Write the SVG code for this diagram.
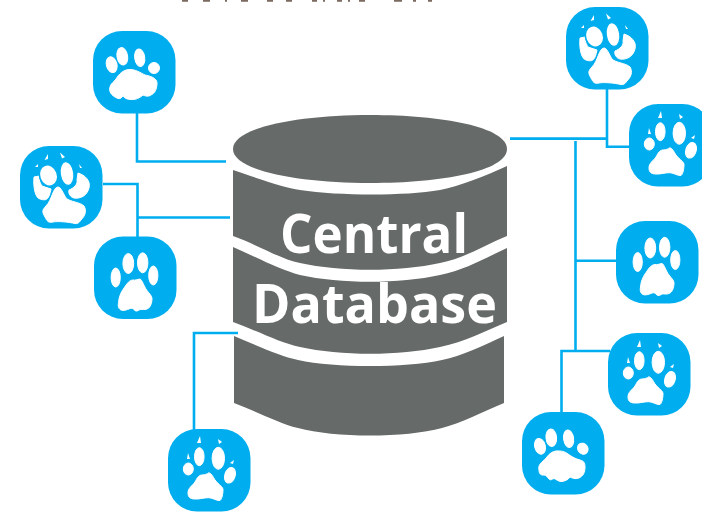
<svg xmlns="http://www.w3.org/2000/svg" width="702" height="513" viewBox="0 0 702 513">
<style>
.box{fill:#00aeef}
.w{fill:#fff;stroke:#fff;stroke-width:1;stroke-linejoin:round}
.c{fill:#fff}
.conn{fill:none;stroke:#00aeef;stroke-width:2.6}
.db{fill:#666a68}
.t{font-family:"Open Sans","Noto Sans",sans-serif;font-weight:700;font-size:54px;fill:#fff}
.frag{fill:none;stroke:#7a6a60;stroke-width:2.4}
</style>
<defs>
<rect id="b" class="box" width="82.5" height="82.5" rx="29"/>
<g id="pA">
<use href="#b"/>
<ellipse class="w" cx="18.7" cy="33.7" rx="5.300" ry="8" transform="rotate(-15 18.7 33.7)"/>
<ellipse class="w" cx="29.3" cy="25.3" rx="5.300" ry="8.800" transform="rotate(-10 29.3 25.3)"/>
<ellipse class="w" cx="46.7" cy="26.7" rx="5" ry="8.800" transform="rotate(-8 46.7 26.7)"/>
<ellipse class="w" cx="61" cy="37" rx="5.500" ry="5.500"/>
<path class="w" d="M36,38.5 C42,38 48,42 52,44 C57,45 64,47 64,52 C64,58 62,62 58,64 C55,66 52,65 50,64 C47,67 42,69 38,68.5 C34,68.500 31,67 30,64.500 C29,67 27,68 25,67.500 C21,66 15,62 17,56 C18,52 21,51 23,48 C26,43 30,39 36,38.5 Z"/>
</g>
<g id="pB">
<use href="#b"/>
<polygon class="c" points="24.5,14 28,8 28,13"/><polygon class="c" points="40,6.5 45,11 42,12.5"/><polygon class="c" points="59,18 60,22 62,22"/><polygon class="c" points="15,21 18,18 18,21"/>
<path class="w" d="M14,31 C13,40 15,52 20,53 C26,55 29,54 31,43 L22,40 C19,35 19,32 19,30 Z"/>
<path class="w" d="M58,27 C65,29 71,35 69,42 C67,50 60,53 54,52 C50,51 48,47 49,44 C54,42 58,38 57,34 Z"/>
<ellipse cx="28.5" cy="29.5" rx="9" ry="11" transform="rotate(-20 28.5 29.5)" fill="#fff" stroke="#00aeef" stroke-width="1.6"/>
<ellipse cx="47" cy="27.5" rx="6.8" ry="12" transform="rotate(-8 47 27.5)" fill="#fff" stroke="#00aeef" stroke-width="1.2"/>
<path class="w" d="M38,41 C41,41 43,47 46,52 C50,56 60,56 64,60 C67,65 65,70 61,74 C59,77 57,78 55,77.500 C48,76 38,75 33,76 C28,77 27,75 25,71 C22,66 22,64 26,60 C32,54 33,41 38,41 Z"/>
</g>
<g id="pC">
<use href="#b"/>
<ellipse class="w" cx="34.3" cy="27" rx="5.4" ry="10"/>
<ellipse class="w" cx="48.7" cy="26.3" rx="5.2" ry="10"/>
<ellipse class="w" cx="21.7" cy="41" rx="4.6" ry="9.500"/>
<ellipse class="w" cx="59.3" cy="39" rx="4.6" ry="9.500"/>
<path class="w" d="M39,43.5 C41,44 43,43 46,42.5 C48,43 50,50 53,54 C55,57 58,59 58,62 C58,67 56,71 54,72 C51,74 48,72.500 46,73 C44,74.500 42,75 41,74 C39,72 38,71.500 36,72 C33,73.500 29,74.500 27,73.500 C24,72 24,69 24.500,66 C25,60 27,56 29,53 C32,49 34,44 39,43.5 Z"/>
</g>
<g id="pD">
<use href="#b"/>
<polygon class="c" points="29,14 32,7 33,14"/><polygon class="c" points="50,10 54,13 51,15"/><polygon class="c" points="19,30 20,24 22,30"/><polygon class="c" points="62,34 66,31 65,35"/>
<ellipse class="w" cx="20.3" cy="40" rx="5" ry="6"/>
<ellipse class="w" cx="31.3" cy="27.7" rx="4.8" ry="9"/>
<ellipse class="w" cx="50.3" cy="29.3" rx="6.200" ry="11"/>
<ellipse class="w" cx="62" cy="46.3" rx="5.200" ry="8" transform="rotate(18 62 46.3)"/>
<path class="w" d="M34,46 C37,46 39,45 41,43.7 C44,45 45,48 47,51 C50,55 54,57 55,60 C55,65 54,70 52,71.500 C49,72 45,69 41,68.700 C36,68.500 31,70.500 27,70 C22,70 20,68 20,64 C20,59 24,57 27,53 C29,49 31,46 34,46 Z"/>
</g>
<g id="pE">
<use href="#b"/>
<ellipse class="w" cx="18" cy="34.3" rx="5.300" ry="8" transform="rotate(-15 18 34.3)"/>
<ellipse class="w" cx="29.3" cy="25.7" rx="5.300" ry="8.800" transform="rotate(-5 29.3 25.7)"/>
<ellipse class="w" cx="46.6" cy="26.7" rx="5" ry="8.800" transform="rotate(-8 46.6 26.7)"/>
<ellipse class="w" cx="60.8" cy="36.7" rx="5" ry="5.800" transform="rotate(-35 60.8 36.7)"/>
<path class="w" d="M34,39 C39,38.500 43,39.500 46,42 C50,45 54,47 58,48 C62,49 63,51 63,55 C63,61 61,64 57,66 C53,67.500 50,66 48,65 C46,68 42,69.500 39,69.500 C36,69.500 34,67 32,66.500 C30,67 29,68.500 27.500,67.500 C25,65 24,63 22,63 C19,63.500 17,62 17,58 C16,54 18,52 21,49 C25,46 27,40 34,39 Z"/>
</g>
</defs>
<path class="frag" d="M182,0.500H188M203,0.500H210M225,0.500H227M241,0.500H248M267,0.500H273M286,0.500H292M312,0.500H317M323,0.500H325M337,0.500H342M348,0.500H350M359,0.500H365M394,0.500H402M413,0.500H416M428,0.500H432"/>
<g id="connectors">
<path class="conn" d="M137,113V161.500H226"/>
<path class="conn" d="M103,184H137.500V237M137.500,217.500H230"/>
<path class="conn" d="M510,138.600H607M607,89V146.700H630"/>
<path class="conn" d="M575.500,141V351M575.500,260.700H617M561.500,413V351H610"/>
<path class="conn" d="M238,333H194V430"/>
</g>
<g id="database">
<path class="db" d="M233,149 C233,127 300,115 370,115 C442,115 507,127 507,149 C507,171 442,183 370,183 C300,183 233,171 233,149 Z"/>
<path class="db" d="M233,170 C262,180 285,188 300,190 C340,196 405,196 440,190 C460,186 485,176 507,166 V236 C485,245 465,258 440,263 C400,272 340,272 300,263 C280,259 258,245 233,236 Z"/>
<path class="db" d="M233,247 C258,258 280,270 300,275 C340,284 400,284 440,275 C465,270 485,258 507,248 V322 C485,331 465,342 440,347 C400,356 340,356 300,347 C280,343 258,331 233,322 Z"/>
<path class="db" d="M234,336 C258,346 280,356 298,360 C335,368 405,368 442,360 C462,356 482,346 504,336 V403 C482,412 462,423 442,428 C405,438 335,438 298,428 C278,423 258,412 234,403 Z"/>
<text class="t" x="280" y="253" textLength="188" lengthAdjust="spacingAndGlyphs">Central</text>
<text class="t" x="252" y="323" textLength="245" lengthAdjust="spacingAndGlyphs">Database</text>
</g>
<g id="node1"><use href="#pA" x="93" y="31"/></g>
<g id="node2"><use href="#pB" x="20" y="146"/></g>
<g id="node3"><use href="#pC" x="94" y="236.500"/></g>
<g id="node4"><use href="#pB" x="566" y="7"/></g>
<g id="node5"><use href="#pD" x="629" y="104"/></g>
<g id="node6"><use href="#pC" x="616" y="221"/></g>
<g id="node7"><use href="#pD" x="608" y="333"/></g>
<g id="node8"><use href="#pE" x="522" y="412"/></g>
<g id="node9"><use href="#pD" x="168" y="429"/></g>
</svg>
